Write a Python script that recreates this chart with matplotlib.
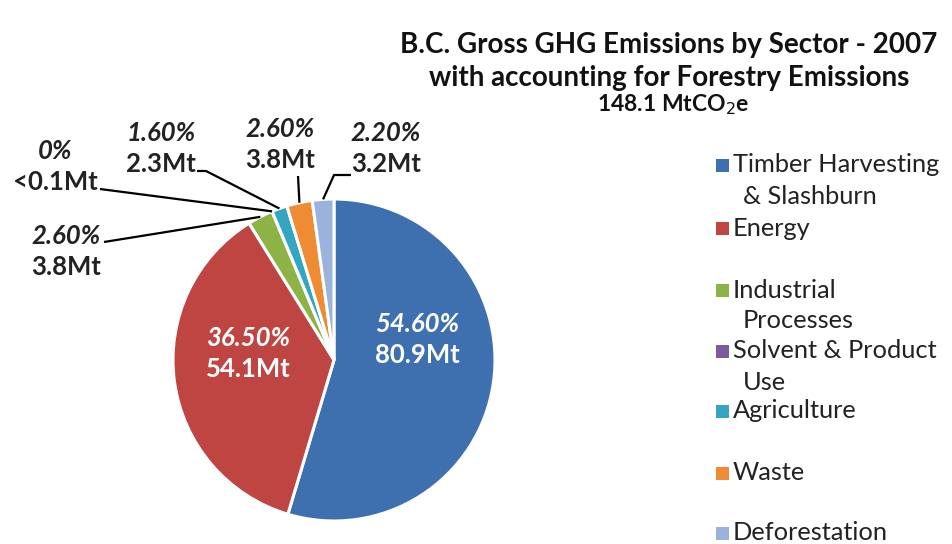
import numpy as np
import matplotlib
matplotlib.use("Agg")
import matplotlib.pyplot as plt
from matplotlib.patches import Rectangle

# Data
sectors = ["Timber Harvesting\n& Slashburn", "Energy", "Industrial\nProcesses",
           "Solvent & Product\nUse", "Agriculture", "Waste", "Deforestation"]
emissions_mt = [80.9, 54.1, 3.8, 0.0, 2.3, 3.8, 3.2]
pct_labels = ["54.60%", "36.50%", "2.60%", "0%", "1.60%", "2.60%", "2.20%"]
mt_labels = ["80.9Mt", "54.1Mt", "3.8Mt", "<0.1Mt", "2.3Mt", "3.8Mt", "3.2Mt"]
colors = ["#3E70B0", "#BE4542", "#8DB245", "#7A5C9E", "#35A6C2",
          "#EE8B33", "#9AB3DD"]

W, H = 952, 544
FONT = "Lato"
plt.rcParams["font.family"] = [FONT, "DejaVu Sans"]

fig = plt.figure(figsize=(W / 100, H / 100), dpi=100)
ax = fig.add_axes([0, 0, 1, 1])

# pixel coordinates, y pointing down -> clockwise visually = counterclock in data
cx, cy, r = 334, 360, 161
wedges, _ = ax.pie(emissions_mt, colors=colors, startangle=-90,
                   counterclock=True, center=(cx, cy), radius=r,
                   wedgeprops=dict(edgecolor="white", linewidth=2.2))
ax.set_xlim(0, W)
ax.set_ylim(H, 0)
ax.set_aspect("auto")
ax.axis("off")

LBL = 18.5
DY = 31  # gap between percent line and Mt line

# Inside labels (percent line, Mt line)
inside = {0: (417, 324), 1: (248, 338)}
for i, (x, y) in inside.items():
    ax.text(x, y, pct_labels[i], color="white", fontsize=LBL, fontweight="bold",
            fontstyle="italic", ha="center", va="center")
    ax.text(x, y + DY, mt_labels[i], color="white", fontsize=LBL,
            fontweight="bold", ha="center", va="center")

# Outside labels: text centre and leader line start
outside = {
    2: ((66, 236), [(104, 242)]),
    3: ((55, 151), [(100, 189)]),
    4: ((161, 133), [(197, 171), (206, 171)]),
    5: ((280, 129), [(298, 176)]),
    6: ((386, 133), [(351, 175), (334, 175)]),
}
for i, ((x, y), pts) in outside.items():
    w = wedges[i]
    mid = np.deg2rad((w.theta1 + w.theta2) / 2)
    ex, ey = cx + r * np.cos(mid), cy + r * np.sin(mid)
    xs = [p[0] for p in pts] + [ex]
    ys = [p[1] for p in pts] + [ey]
    ax.plot(xs, ys, color="black", linewidth=1.6, solid_capstyle="butt")
    ax.text(x, y, pct_labels[i], color="#222222", fontsize=LBL,
            fontweight="bold", fontstyle="italic", ha="center", va="center")
    ax.text(x, y + DY, mt_labels[i], color="#222222", fontsize=LBL,
            fontweight="bold", ha="center", va="center")

# Title
ax.text(669, 45, "B.C. Gross GHG Emissions by Sector - 2007", fontsize=20,
        fontweight="bold", ha="center", va="center", color="#111111")
ax.text(669, 78, "with accounting for Forestry Emissions", fontsize=20,
        fontweight="bold", ha="center", va="center", color="#111111")
ax.text(673, 105, "148.1 MtCO$_2$e", fontsize=16.5, fontweight="bold",
        ha="center", va="center", color="#111111")

# Legend
rows = [165, 228, 290, 351, 411, 473, 533]
for lab, col, y in zip(sectors, colors, rows):
    ax.add_patch(Rectangle((716, y - 6.5), 13, 13, facecolor=col,
                           edgecolor="none"))
    for k, line in enumerate(lab.split("\n")):
        ax.text(733 + (10 if k else 0), y + 31 * k, line, fontsize=18.3,
                ha="left", va="center", color="#222222")

fig.savefig("out.png", dpi=100)
